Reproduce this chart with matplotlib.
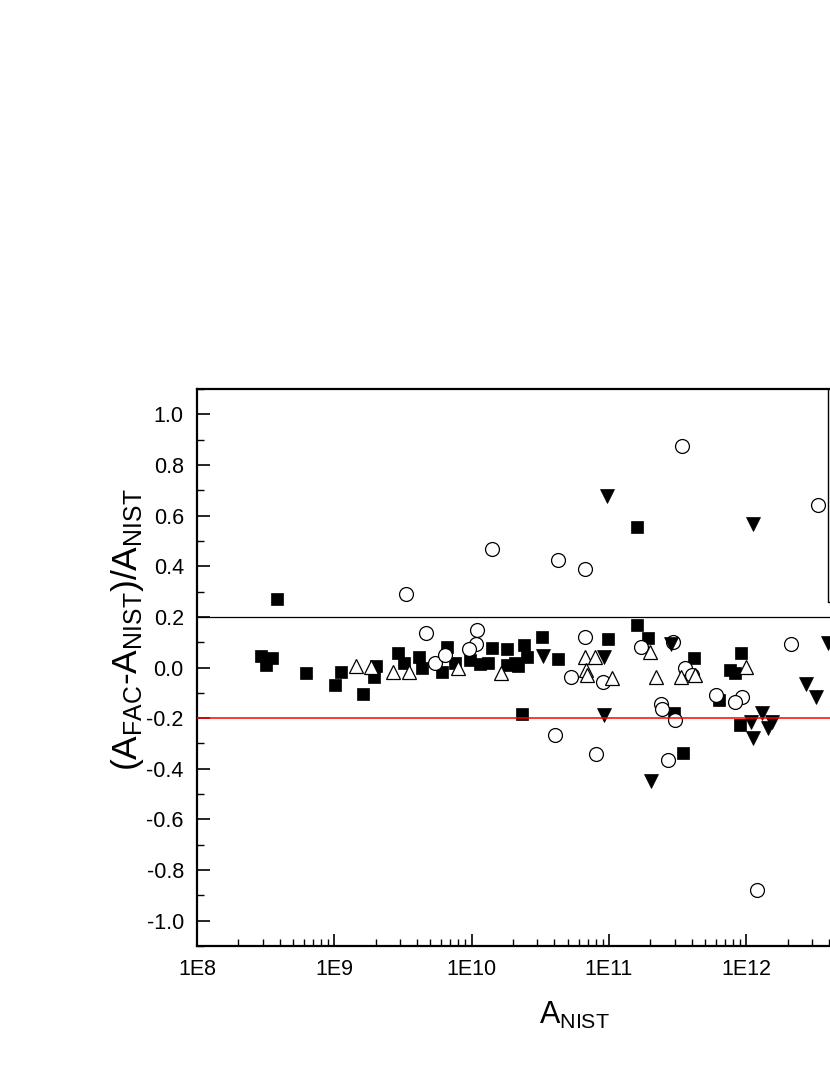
import numpy as np
import matplotlib
matplotlib.use("Agg")
import matplotlib.pyplot as plt
from matplotlib.ticker import LogLocator, MultipleLocator, FuncFormatter, NullFormatter
from matplotlib.patches import Rectangle

plt.rcParams['font.family'] = ['Liberation Sans', 'DejaVu Sans']
plt.rcParams['mathtext.fontset'] = 'custom'
plt.rcParams['mathtext.rm'] = 'Liberation Sans'
plt.rcParams['mathtext.it'] = 'Liberation Sans:italic'
plt.rcParams['axes.unicode_minus'] = False

# filled squares
sq_x = [3.80e8, 2.91e8, 3.52e8, 3.18e8, 6.21e8, 1.11e9, 1.005e9, 1.62e9, 2.01e9, 1.96e9,
        2.92e9, 3.21e9, 4.15e9, 4.34e9, 6.04e9, 6.57e9, 7.55e9, 9.70e9, 1.15e10, 1.40e10,
        1.32e10, 1.80e10, 1.81e10, 2.06e10, 2.18e10, 2.41e10, 2.51e10, 3.23e10, 4.22e10, 9.85e10,
        2.31e10, 1.61e11, 1.93e11, 4.16e11, 9.21e11, 7.57e11, 8.24e11, 6.30e11, 8.95e11, 2.96e11,
        3.43e11, 1.61e11]
sq_y = [0.270, 0.045, 0.036, 0.010, -0.023, -0.018, -0.069, -0.104, 0.006, -0.039,
        0.056, 0.017, 0.040, -0.003, -0.017, 0.082, 0.018, 0.030, 0.014, 0.076,
        0.017, 0.072, 0.010, 0.017, 0.006, 0.089, 0.043, 0.121, 0.033, 0.111,
        -0.184, 0.167, 0.115, 0.039, 0.058, -0.010, -0.020, -0.128, -0.226, -0.180,
        -0.338, 0.554]

# open circles
ci_x = [4.62e9, 5.40e9, 6.38e9, 1.10e10, 1.07e10, 9.54e9, 6.67e10, 5.33e10, 9.06e10, 3.40e11,
        3.33e12, 4.22e10, 6.70e10, 1.41e10, 3.30e9, 1.72e11, 2.93e11, 3.56e11, 4.05e11, 2.13e12,
        6.06e11, 9.37e11, 8.24e11, 2.41e11, 2.44e11, 3.01e11, 2.69e11, 4.03e10, 7.98e10, 1.20e12]
ci_y = [0.137, 0.019, 0.049, 0.148, 0.093, 0.073, 0.121, -0.036, -0.056, 0.876,
        0.643, 0.423, 0.391, 0.469, 0.292, 0.082, 0.102, -0.001, -0.030, 0.093,
        -0.108, -0.115, -0.135, -0.145, -0.165, -0.207, -0.364, -0.266, -0.341, -0.880]

# open up-triangles
tu_x = [1.45e9, 1.84e9, 2.66e9, 3.47e9, 7.98e9, 1.63e10, 6.67e10, 7.88e10, 6.75e10, 6.86e10,
        1.06e11, 1.98e11, 2.19e11, 3.37e11, 4.21e11, 1.00e12]
tu_y = [0.006, 0.001, -0.017, -0.017, -0.003, -0.020, 0.043, 0.040, -0.010, -0.030,
        -0.043, 0.062, -0.036, -0.036, -0.030, 0.001]

# filled down-triangles
td_x = [3.31e10, 9.16e10, 9.16e10, 9.59e10, 1.11e12, 2.82e11, 2.71e12, 3.24e12, 1.31e12, 1.09e12,
        1.55e12, 1.44e12, 1.11e12, 2.01e11, 3.93e12]
td_y = [0.045, 0.040, -0.187, 0.679, 0.565, 0.093, -0.065, -0.117, -0.178, -0.217,
        -0.217, -0.239, -0.279, -0.447, 0.095]

fig = plt.figure(figsize=(8.3, 10.75), dpi=100)
ax = fig.add_axes([197 / 830, 129 / 1075, 824 / 830, 557 / 1075])

ax.plot(sq_x, sq_y, 's', ms=9, mfc='black', mec='black', mew=0.5, ls='none', zorder=2)
ax.plot(ci_x, ci_y, 'o', ms=10, mfc='white', mec='black', mew=0.9, ls='none', zorder=2)
ax.plot(tu_x, tu_y, '^', ms=10.5, mfc='white', mec='black', mew=0.9, ls='none', zorder=2)
ax.plot(td_x, td_y, 'v', ms=10.5, mfc='black', mec='black', mew=0.5, ls='none', zorder=2)

ax.axhline(0.2, color='black', lw=0.9, zorder=3)
ax.axhline(-0.2, color='red', lw=1.1, zorder=3)

ax.set_xscale('log')
ax.set_xlim(1e8, 1e14)
ax.set_ylim(-1.1, 1.1)

ax.xaxis.set_major_locator(LogLocator(base=10))
ax.xaxis.set_minor_locator(LogLocator(base=10, subs=np.arange(2, 10)))
ax.xaxis.set_major_formatter(FuncFormatter(lambda v, p: f"1E{int(round(np.log10(v)))}"))
ax.xaxis.set_minor_formatter(NullFormatter())
ax.yaxis.set_major_locator(MultipleLocator(0.2))
ax.yaxis.set_minor_locator(MultipleLocator(0.1))
ax.yaxis.set_major_formatter(FuncFormatter(lambda v, p: f"{v:.1f}" if abs(v) > 1e-9 else "0.0"))

ax.tick_params(which='major', direction='in', length=9, width=1.2, labelsize=15.5, pad=9.5)
ax.tick_params(which='minor', direction='in', length=5, width=1.0)
ax.tick_params(which='both', top=False, right=False)
for s in ax.spines.values():
    s.set_linewidth(1.6)

ax.set_xlabel(r'$\mathregular{A_{NIST}}$', fontsize=22)
ax.xaxis.set_label_coords(0.4575, -0.097)
ax.set_ylabel(r'$\mathregular{(A_{FAC}\text{-}A_{NIST})/A_{NIST}}$', fontsize=25.5)
ax.yaxis.set_label_coords(-0.0625, 0.567)

# legend frame (mostly outside the visible area)
ax.add_patch(Rectangle((0.7658, 0.6176), 0.2, 0.3824, transform=ax.transAxes,
                       fill=False, lw=1.0, ec='black', zorder=4))

fig.savefig("out.png", dpi=100)
